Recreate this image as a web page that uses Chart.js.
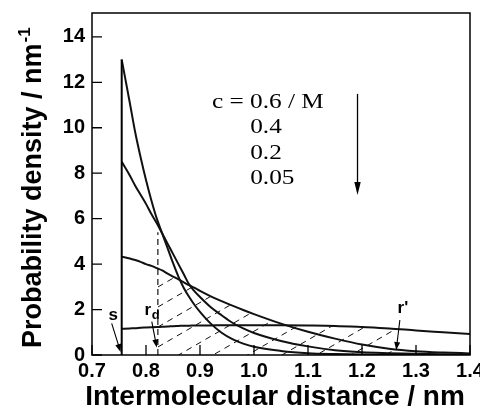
<!DOCTYPE html>
<html>
<head>
<meta charset="utf-8">
<script src="https://cdn.jsdelivr.net/npm/chart.js@4.4.1/dist/chart.umd.min.js"></script>
<style>
  html, body { margin: 0; padding: 0; background: #fff; }
</style>
</head>
<body>
<canvas id="distChart" width="480" height="413"></canvas>
<script>
// intermolecular distance grid (nm), shared by all four curves
const distance = [0.755, 0.77, 0.78, 0.79, 0.80, 0.81, 0.82, 0.83, 0.84, 0.85, 0.86, 0.87, 0.88, 0.89,
                  0.90, 0.92, 0.94, 0.96, 0.98, 1.00, 1.05, 1.10, 1.15, 1.20, 1.25, 1.30, 1.35, 1.40];

// probability density (nm^-1)
const density06  = [13.0, 11.1, 9.8, 8.7, 7.7, 6.8, 6.0, 5.35, 4.7, 4.05, 3.45, 2.95, 2.55, 2.2,
                    1.9, 1.38, 0.98, 0.7, 0.5, 0.36, 0.18, 0.08, 0.04, 0.02, 0.01, 0, 0, 0];
const density04  = [8.5, 7.9, 7.45, 7.05, 6.65, 6.2, 5.8, 5.35, 4.9, 4.45, 4.0, 3.55, 3.1, 2.8,
                    2.55, 2.1, 1.75, 1.42, 1.17, 0.97, 0.62, 0.38, 0.21, 0.12, 0.08, 0.05, 0.03, 0.02];
const density02  = [4.33, 4.25, 4.18, 4.1, 4.0, 3.92, 3.82, 3.72, 3.58, 3.45, 3.33, 3.2, 3.07, 2.95,
                    2.82, 2.58, 2.37, 2.17, 1.98, 1.8, 1.38, 1.02, 0.72, 0.46, 0.28, 0.17, 0.11, 0.07];
const density005 = [1.15, 1.17, 1.18, 1.2, 1.21, 1.22, 1.23, 1.24, 1.25, 1.27, 1.28, 1.29, 1.29, 1.3,
                    1.3, 1.3, 1.31, 1.31, 1.31, 1.31, 1.31, 1.3, 1.28, 1.23, 1.17, 1.08, 1.0, 0.92];

const concLabels = ['c = 0.6 / M', '0.4', '0.2', '0.05'];

const xTicks = [0.7, 0.8, 0.9, 1.0, 1.1, 1.2, 1.3, 1.4];
const yTicks = [0, 2, 4, 6, 8, 10, 12, 14];

// characteristic distances marked on the plot
const sDist = 0.755, sTop = 13.0;
const rdDist = 0.822, rdTop = 5.4;
const rPrimeDist = 1.265;

const xTitle = 'Intermolecular distance / nm';
const yTitle = 'Probability density / nm';
const yTitleSup = '-1';

const toPts = ys => distance.map((r, i) => ({ x: r, y: ys[i] }));

const curve = data => ({
    data: data,
    showLine: true,
    borderColor: '#111',
    borderWidth: 2,
    pointRadius: 0,
    cubicInterpolationMode: 'monotone',
    fill: false
});

const SANS = '"Liberation Sans", Arial, sans-serif';
const SERIF = '"Liberation Serif", "Times New Roman", serif';

function drawArrow(ctx, x1, y1, x2, y2, len, half) {
    const ang = Math.atan2(y2 - y1, x2 - x1);
    ctx.beginPath();
    ctx.moveTo(x1, y1);
    ctx.lineTo(x2 - Math.cos(ang) * len * 0.6, y2 - Math.sin(ang) * len * 0.6);
    ctx.stroke();
    ctx.beginPath();
    ctx.moveTo(x2, y2);
    ctx.lineTo(x2 - Math.cos(ang) * len + Math.sin(ang) * half, y2 - Math.sin(ang) * len - Math.cos(ang) * half);
    ctx.lineTo(x2 - Math.cos(ang) * len - Math.sin(ang) * half, y2 - Math.sin(ang) * len + Math.cos(ang) * half);
    ctx.closePath();
    ctx.fill();
}

// dashed hatching between r_d and r', under the upper envelope of the 0.2 and 0.05 curves
const hatchPlugin = {
    id: 'hatch',
    beforeDatasetsDraw(chart) {
        const { ctx, chartArea: a, scales: { x, y } } = chart;
        const x0 = x.getPixelForValue(rdDist);
        const x1 = x.getPixelForValue(rPrimeDist);
        const bottom = y.getPixelForValue(0);
        ctx.save();
        ctx.beginPath();
        ctx.rect(x0, a.top, x1 - x0, bottom - a.top);
        ctx.clip();
        ctx.beginPath();
        [2, 3].forEach(idx => {
            const pts = chart.getDatasetMeta(idx).data;
            ctx.moveTo(pts[0].x, bottom);
            pts.forEach(p => ctx.lineTo(p.x, p.y));
            ctx.lineTo(pts[pts.length - 1].x, bottom);
            ctx.closePath();
        });
        ctx.clip('nonzero');
        const slope = 0.58, gap = 20, start = bottom - 8;
        ctx.setLineDash([6, 5]);
        ctx.lineWidth = 1;
        ctx.strokeStyle = '#111';
        const kMin = -Math.ceil(slope * (x1 - x0) / gap) - 1;
        const kMax = Math.ceil((bottom - a.top) / gap);
        for (let k = kMin; k <= kMax; k++) {
            const yy = start - k * gap;
            ctx.beginPath();
            ctx.moveTo(x0, yy);
            ctx.lineTo(x1, yy - slope * (x1 - x0));
            ctx.stroke();
        }
        ctx.restore();
    }
};

// frame, inward ticks, titles and annotations
const decorPlugin = {
    id: 'decor',
    afterDatasetsDraw(chart) {
        const { ctx, chartArea: a, scales: { x, y } } = chart;
        const px = v => x.getPixelForValue(v);
        const py = v => y.getPixelForValue(v);
        ctx.save();
        ctx.strokeStyle = '#000';
        ctx.fillStyle = '#000';
        ctx.lineWidth = 1.5;
        ctx.strokeRect(a.left, a.top, a.right - a.left, a.bottom - a.top);

        ctx.lineWidth = 1.3;
        ctx.beginPath();
        xTicks.forEach(v => { ctx.moveTo(px(v), a.bottom); ctx.lineTo(px(v), a.bottom - 10); });
        yTicks.forEach(v => { ctx.moveTo(a.left, py(v)); ctx.lineTo(a.left + 10, py(v)); });
        ctx.stroke();

        // vertical line at s and dashed line at r_d
        ctx.lineWidth = 2;
        ctx.beginPath();
        ctx.moveTo(px(sDist), py(0));
        ctx.lineTo(px(sDist), py(sTop));
        ctx.stroke();
        ctx.lineWidth = 1.1;
        ctx.setLineDash([6, 4]);
        ctx.beginPath();
        ctx.moveTo(px(rdDist), py(0));
        ctx.lineTo(px(rdDist), py(rdTop));
        ctx.stroke();
        ctx.setLineDash([]);

        // arrows
        ctx.lineWidth = 1.1;
        drawArrow(ctx, px(0.7365), py(1.39), px(0.7529), py(0.13), 8, 3);
        drawArrow(ctx, px(0.8107), py(1.47), px(0.820), py(0.33), 8, 3);
        drawArrow(ctx, px(1.2701), py(1.54), px(1.2634), py(0.22), 8, 3);
        ctx.lineWidth = 1.3;
        drawArrow(ctx, px(1.1917), py(11.49), px(1.1917), py(7.04), 13, 3.2);

        // labels s, r_d, r'
        ctx.textAlign = 'left';
        ctx.textBaseline = 'alphabetic';
        ctx.font = 'bold 17px ' + SANS;
        ctx.fillText('s', px(0.7305), py(1.54));
        ctx.fillText('r', px(0.797), py(1.76));
        ctx.fillText("r'", px(1.2659), py(1.85));
        ctx.font = 'bold 13px ' + SANS;
        ctx.fillText('d', px(0.8105), py(1.58));

        // concentration list
        ctx.font = '22px ' + SERIF;
        const concPos = [[0.922, 10.86], [0.993, 9.76], [0.993, 8.61], [0.993, 7.53]];
        concLabels.forEach((t, i) => {
            ctx.save();
            ctx.translate(px(concPos[i][0]), py(concPos[i][1]));
            ctx.scale(1.15, 1);
            ctx.fillText(t, 0, 0);
            ctx.restore();
        });

        // axis titles
        ctx.font = 'bold 28px ' + SANS;
        ctx.textAlign = 'center';
        ctx.fillText(xTitle, 275, 405);

        ctx.save();
        ctx.translate(41, 348);
        ctx.rotate(-Math.PI / 2);
        ctx.textAlign = 'left';
        ctx.font = 'bold 27px ' + SANS;
        ctx.fillText(yTitle, 0, 0);
        const w = ctx.measureText(yTitle).width;
        ctx.font = 'bold 17px ' + SANS;
        ctx.fillText(yTitleSup, w + 1, -11);
        ctx.restore();

        ctx.restore();
    }
};

const tickFont = { family: SANS, weight: 'bold', size: 20 };

new Chart(document.getElementById('distChart').getContext('2d'), {
    type: 'scatter',
    data: {
        datasets: [
            curve(toPts(density06)),
            curve(toPts(density04)),
            curve(toPts(density02)),
            curve(toPts(density005))
        ]
    },
    options: {
        responsive: false,
        animation: false,
        devicePixelRatio: 1,
        layout: { padding: { left: 0, top: 13, right: 10, bottom: 0 } },
        plugins: {
            legend: { display: false },
            tooltip: { enabled: false }
        },
        scales: {
            x: {
                type: 'linear',
                min: 0.7,
                max: 1.4,
                grid: { display: false, drawTicks: false },
                border: { display: false },
                ticks: {
                    font: tickFont,
                    color: '#000',
                    padding: 4,
                    maxRotation: 0,
                    callback: v => v.toFixed(1)
                },
                afterBuildTicks: s => { s.ticks = xTicks.map(v => ({ value: v })); },
                afterFit: s => { s.height = 58; s.paddingLeft = 0; s.paddingRight = 0; }
            },
            y: {
                type: 'linear',
                min: 0,
                max: 15.05,
                grid: { display: false, drawTicks: false },
                border: { display: false },
                ticks: {
                    font: tickFont,
                    color: '#000',
                    padding: 7
                },
                afterBuildTicks: s => { s.ticks = yTicks.map(v => ({ value: v })); },
                afterFit: s => { s.width = 92; s.paddingTop = 0; s.paddingBottom = 0; }
            }
        }
    },
    plugins: [hatchPlugin, decorPlugin]
});
</script>
</body>
</html>
